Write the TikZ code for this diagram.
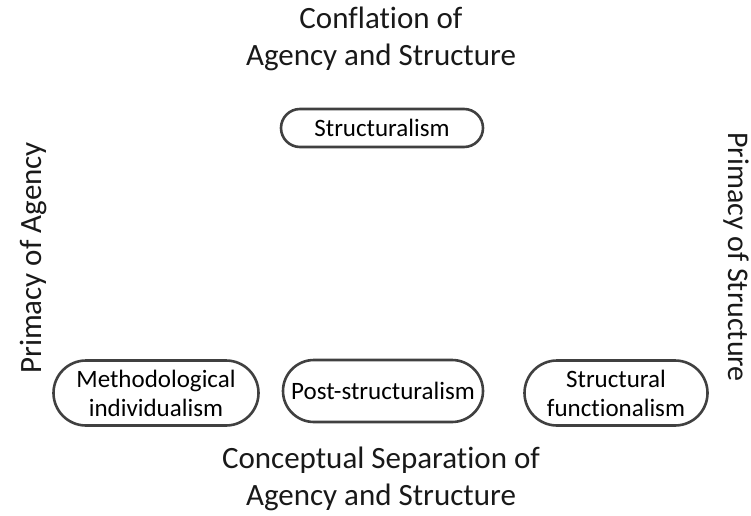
\documentclass[tikz,border=0pt]{standalone}
\usepackage{fontspec}
\setmainfont[Ligatures={NoCommon}]{Carlito}
\usetikzlibrary{shapes.misc}
\begin{document}
\begin{tikzpicture}[x=1pt,y=1pt,
  school/.style={rounded rectangle, draw=black!75, line width=2.6pt, fill=white,
    align=center, font=\fontsize{25}{29}\selectfont, inner sep=0pt},
  axis/.style={align=center, font=\fontsize{31}{37}\selectfont, text=black!90}]
\useasboundingbox (0,0) rectangle (751,515);
% poles of the two dimensions
\node[axis] (top) at (381,476) {Conflation of\\Agency and Structure};
\node[axis] (bottom) at (381,36) {Conceptual Separation of\\Agency and Structure};
\node[axis, rotate=90] (left) at (33,257) {Primacy of Agency};
\node[axis, rotate=-90, font=\fontsize{30}{37}\selectfont] (right) at (736,258) {Primacy of Structure};
% theoretical positions
\node[school, minimum width=202pt, minimum height=38pt] (struct) at (382,387) {Structuralism};
\node[school, minimum width=205pt, minimum height=65pt] (mi) at (156,122) {Methodological\\individualism};
\node[school, minimum width=200pt, minimum height=62pt] (post) at (383,124) {Post-structuralism};
\node[school, minimum width=183pt, minimum height=65pt] (sf) at (616,122) {Structural\\functionalism};
\end{tikzpicture}
\end{document}
